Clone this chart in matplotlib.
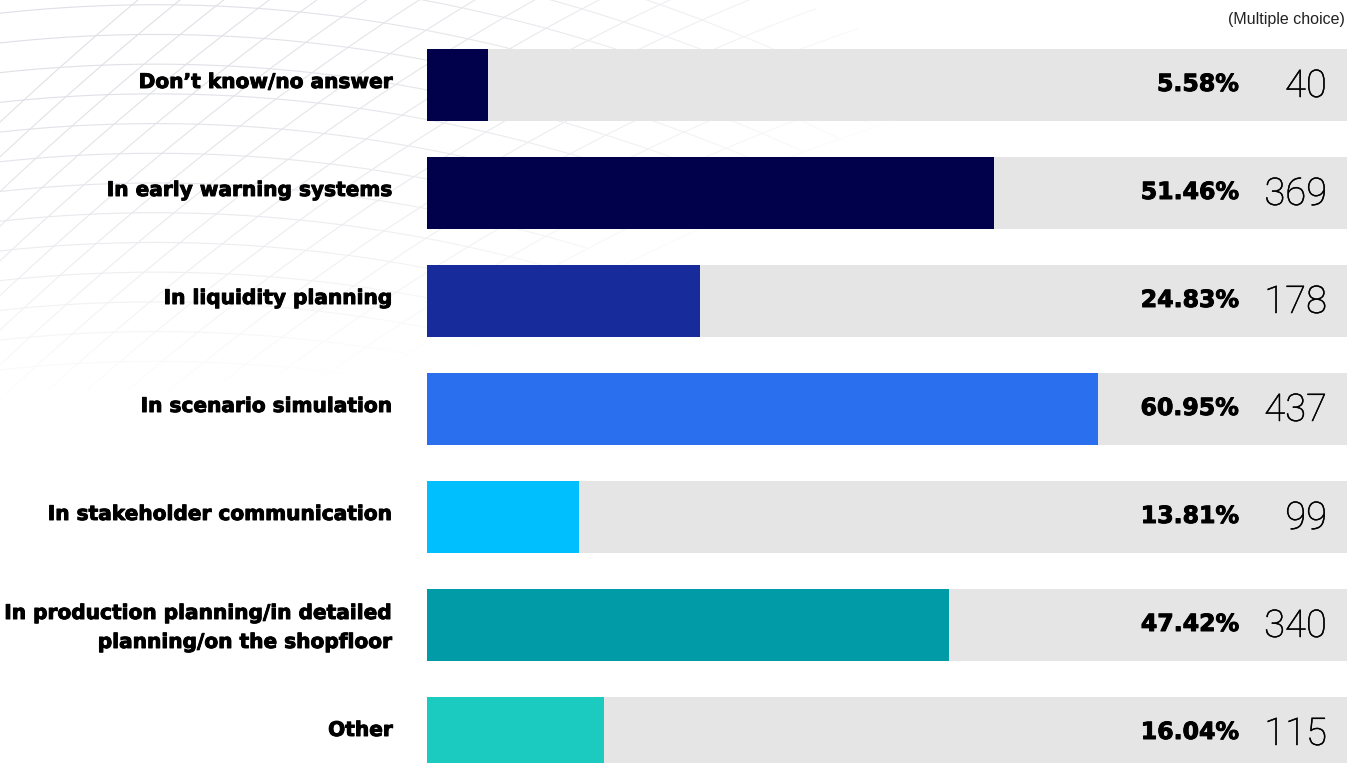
import matplotlib.pyplot as plt
import matplotlib.patheffects as pe
import numpy as np

categories = [
    "Don\u2019t know/no answer",
    "In early warning systems",
    "In liquidity planning",
    "In scenario simulation",
    "In stakeholder communication",
    "In production planning/in detailed\nplanning/on the shopfloor",
    "Other",
]
shares = [5.58, 51.46, 24.83, 60.95, 13.81, 47.42, 16.04]
counts = [40, 369, 178, 437, 99, 340, 115]
colors = ["#00004b", "#00004b", "#172b9a", "#2a6fee", "#00bfff", "#009ba6", "#1bcbbf"]

W, H = 1347, 763
fig = plt.figure(figsize=(W / 100, H / 100), dpi=100)

# background layer in pixel coordinates (y down)
bg = fig.add_axes([0, 0, 1, 1], zorder=0)
bg.set_xlim(0, W)
bg.set_ylim(H, 0)
bg.axis("off")

# faint warped mesh, top left
u = np.linspace(-6, 14, 300)
for v in np.arange(-4, 12):
    x = 42 * (u - v) + 180 + 6 * v
    y = 16 * (u + v) - 60 + 0.00035 * (x - 700) ** 2
    bg.plot(x, y, color="#dfe0e6", lw=0.8, zorder=0)
v = np.linspace(-6, 14, 300)
for u0 in np.arange(-2, 16):
    x = 42 * (u0 - v) + 180 + 6 * v
    y = 16 * (u0 + v) - 60 + 0.00035 * (x - 700) ** 2
    bg.plot(x, y, color="#dfe0e6", lw=0.8, zorder=0)

# white haze over the mesh: clear at top left, fading out down and right
gx, gy = np.meshgrid(np.linspace(0, W, 270), np.linspace(0, H, 150))
fade = np.clip(np.hypot(gx / 950, gy / 400), 0, 1) ** 2
haze = np.ones(gx.shape + (4,))
haze[..., 3] = fade
bg.imshow(haze, extent=[0, W, H, 0], zorder=1, aspect="auto", interpolation="bilinear")
bg.set_xlim(0, W)
bg.set_ylim(H, 0)

# bar area: starts at x=427px, runs to the right edge
px_per_pct = 11.01
left = 427
ax = fig.add_axes([left / W, 0, 1 - left / W, 1], zorder=1)
ax.patch.set_alpha(0)
xmax = (W - left) / px_per_pct
pitch = 108
ax.set_xlim(0, xmax)
ax.set_ylim((H - 85) / pitch, -85 / pitch)
ax.axis("off")

y = np.arange(len(categories))
bh = 72 / pitch
ax.barh(y, [xmax] * len(y), height=bh, color="#e5e5e5", zorder=1)
ax.barh(y, shares, height=bh, color=colors, zorder=2)

# text layer on top, same pixel coordinates
tx = fig.add_axes([0, 0, 1, 1], zorder=2)
tx.set_xlim(0, W)
tx.set_ylim(H, 0)
tx.axis("off")
tx.patch.set_alpha(0)

heavy = [pe.withStroke(linewidth=0.7, foreground="black")]
thin = [pe.withStroke(linewidth=0.35, foreground="black")]
for i in y:
    c = 85 + i * pitch
    lines = categories[i].split("\n")
    if len(lines) == 1:
        bases = [c + 3]
    else:
        bases = [c - 6, c + 23]
    for line, b in zip(lines, bases):
        tx.text(393, b, line, ha="right", va="baseline", fontsize=14.5,
                fontweight="bold", family="DejaVu Sans", path_effects=heavy)
    tx.text(1239, c + 6, f"{shares[i]:.2f}%", ha="right", va="baseline",
            fontsize=17, fontweight="bold", family="DejaVu Sans", path_effects=heavy)
    tx.text(1327, c + 12, str(counts[i]), ha="right", va="baseline",
            fontsize=27.5, fontweight="light", family="Roboto", color="black",
            path_effects=thin)

tx.text(1345, 24, "(Multiple choice)", ha="right", va="baseline",
        fontsize=11.5, family="Liberation Sans", color="#222222")

fig.savefig("out.png", dpi=100)
